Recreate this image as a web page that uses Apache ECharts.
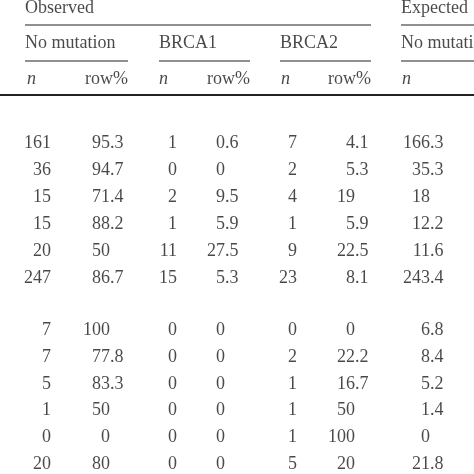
<!DOCTYPE html>
<html>
<head>
<meta charset="utf-8">
<script src="https://cdn.jsdelivr.net/npm/echarts@6/dist/echarts.min.js"></script>
<style>html,body{margin:0;padding:0;background:#fff}#c{width:474px;height:474px}</style>
</head>
<body>
<div id="c"></div>
<script>
// table data
var obsNoMut = ['161', '36', '15', '15', '20', '247', '7', '7', '5', '1', '0', '20'];
var obsNoMutPct = ['95.3', '94.7', '71.4', '88.2', '50', '86.7', '100', '77.8', '83.3', '50', '0', '80'];
var brca1N = ['1', '0', '2', '1', '11', '15', '0', '0', '0', '0', '0', '0'];
var brca1Pct = ['0.6', '0', '9.5', '5.9', '27.5', '5.3', '0', '0', '0', '0', '0', '0'];
var brca2N = ['7', '2', '4', '1', '9', '23', '0', '2', '1', '1', '1', '5'];
var brca2Pct = ['4.1', '5.3', '19', '5.9', '22.5', '8.1', '0', '22.2', '16.7', '50', '100', '20'];
var expNoMut = ['166.3', '35.3', '18', '12.2', '11.6', '243.4', '6.8', '8.4', '5.2', '1.4', '0', '21.8'];

var headers1 = ['Observed', 'Expected'];
var headers2 = ['No mutation', 'BRCA1', 'BRCA2', 'No mutati'];
var headers3 = ['n', 'row%', 'n', 'row%', 'n', 'row%', 'n'];

// layout
var rowY = [143, 170, 197, 224, 251, 278, 330, 357, 384, 410, 437, 464];
var columns = [
  {vals: obsNoMut, x: 51},
  {vals: obsNoMutPct, x: 110},
  {vals: brca1N, x: 177},
  {vals: brca1Pct, x: 225},
  {vals: brca2N, x: 297},
  {vals: brca2Pct, x: 355},
  {vals: expNoMut, x: 430}
];
var h1X = [25, 401], h2X = [25, 159, 280, 401];
var h3 = [[27, 'l'], [128, 'r'], [159, 'l'], [250, 'r'], [281, 'l'], [371, 'r'], [402, 'l']];

var intPts = [], fracPts = [], leftPts = [], rightPts = [], italPts = [];
columns.forEach(function (c) {
  c.vals.forEach(function (v, i) {
    var parts = v.split('.');
    intPts.push([c.x, rowY[i], parts[0]]);
    if (parts.length > 1) fracPts.push([c.x, rowY[i], '.' + parts[1]]);
  });
});
headers1.forEach(function (t, i) { leftPts.push([h1X[i], 8, t]); });
headers2.forEach(function (t, i) { leftPts.push([h2X[i], 43, t]); });
headers3.forEach(function (t, i) {
  if (t === 'n') italPts.push([h3[i][0], 79, t]);
  else rightPts.push([h3[i][0], 79, t]);
});

var font = {fontFamily: '"Liberation Serif", "DejaVu Serif", serif', fontSize: 18, color: '#1a1a1a'};
function textSeries(data, align, style) {
  return {
    type: 'scatter', data: data, symbolSize: 0.01, silent: true,
    label: Object.assign({
      show: true, position: [0, 0], align: align, verticalAlign: 'middle',
      formatter: function (p) { return p.value[2]; }
    }, font, style || {})
  };
}

function hline(x1, x2, y, w) {
  return {type: 'line', shape: {x1: x1, y1: y, x2: x2, y2: y}, style: {stroke: '#222', lineWidth: w}};
}

var chart = echarts.init(document.getElementById('c'));
chart.setOption({
  animation: false,
  grid: {left: 0, right: 0, top: 0, bottom: 0},
  xAxis: {type: 'value', min: 0, max: 474, show: false},
  yAxis: {type: 'value', min: 0, max: 474, inverse: true, show: false},
  graphic: [
    hline(25, 371, 25, 1.2), hline(401, 474, 25, 1.2),
    hline(25, 128, 61, 1.2), hline(159, 250, 61, 1.2),
    hline(280, 371, 61, 1.2), hline(401, 474, 61, 1.2),
    hline(0, 474, 95, 2.2)
  ],
  series: [
    textSeries(intPts, 'right'),
    textSeries(fracPts, 'left'),
    textSeries(leftPts, 'left'),
    textSeries(rightPts, 'right'),
    textSeries(italPts, 'left', {fontStyle: 'italic'})
  ]
});
</script>
</body>
</html>
